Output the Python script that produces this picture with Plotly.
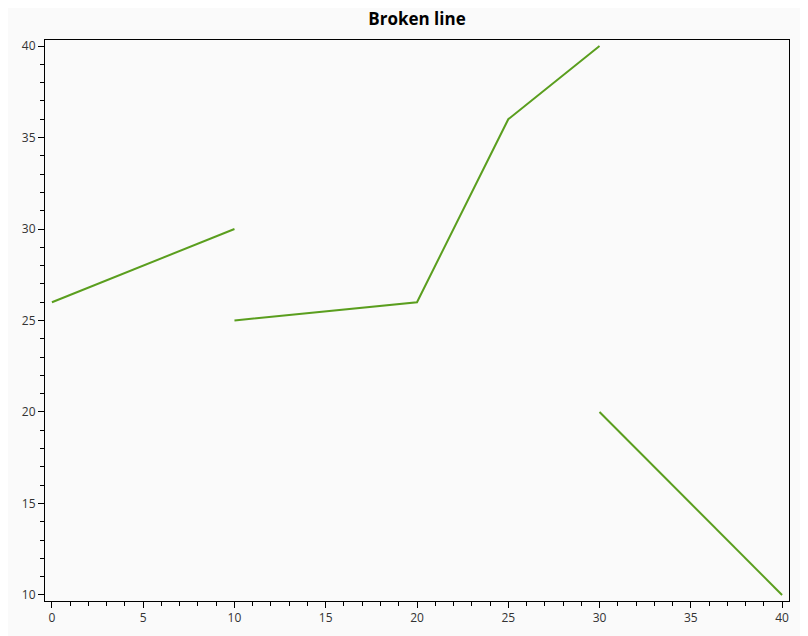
import plotly.graph_objects as go

x_vals = [0, 10, None, 10, 20, 25, 30, None, 30, 40]
y_vals = [26, 30, None, 25, 26, 36, 40, None, 20, 10]

x_ticks = [0, 5, 10, 15, 20, 25, 30, 35, 40]
y_ticks = [10, 15, 20, 25, 30, 35, 40]

fig = go.Figure()
fig.add_trace(go.Scatter(x=x_vals, y=y_vals, mode="lines",
                         line=dict(color="#5a9e1e", width=2),
                         connectgaps=False, showlegend=False))

axis_common = dict(showline=True, linecolor="black", linewidth=1, mirror=True,
                   ticks="outside", ticklen=6, tickcolor="black", tickwidth=1,
                   showgrid=False, zeroline=False,
                   tickfont=dict(family="Open Sans, Segoe UI, sans-serif", size=12, color="#333333"),
                   minor=dict(ticks="outside", ticklen=4, tickcolor="black", dtick=1, showgrid=False))

fig.update_layout(
    width=808, height=636,
    paper_bgcolor="#fafafa", plot_bgcolor="#fafafa",
    margin=dict(l=37, r=27, t=32, b=43),
    title=dict(text="<b>Broken line</b>", x=0.5, xref="paper", xanchor="center",
               y=0.983, yref="container", yanchor="middle",
               font=dict(family="Open Sans, Segoe UI, sans-serif", size=17, color="black")),
    xaxis=dict(range=[-0.38, 40.38], tickvals=x_ticks, **axis_common),
    yaxis=dict(range=[9.67, 40.33], tickvals=y_ticks, **axis_common),
)

fig.write_html("out.html")
